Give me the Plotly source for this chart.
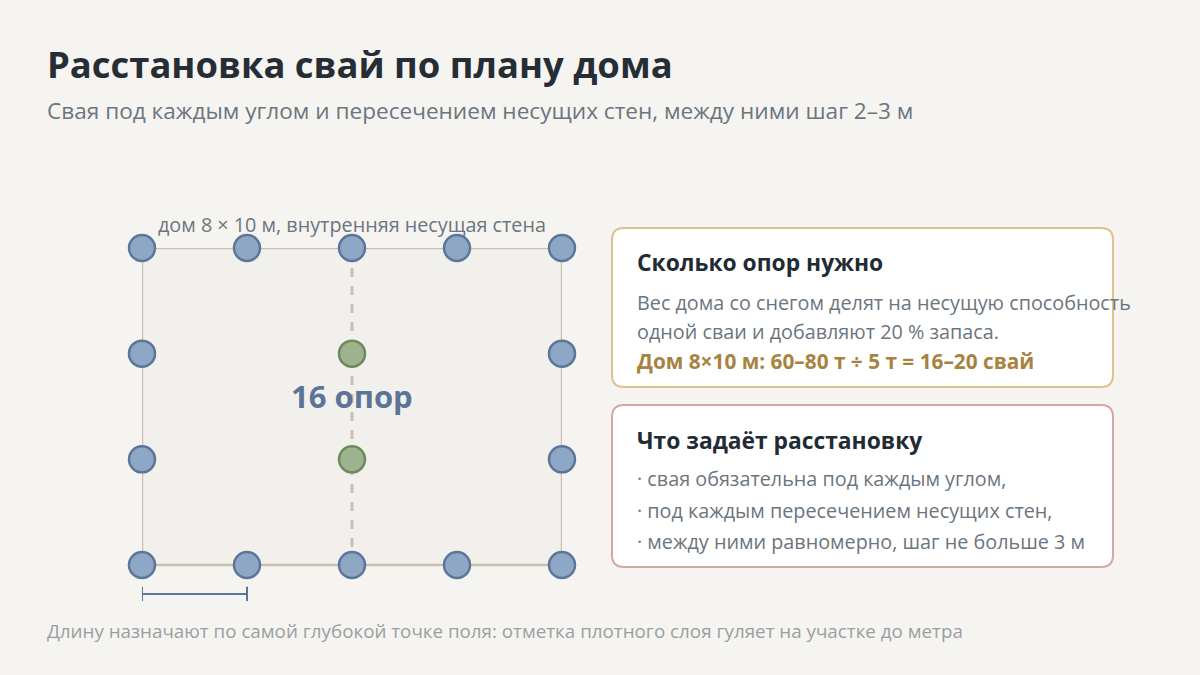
import plotly.graph_objects as go

W, H = 1200, 675
house_w, house_h = 10, 8
pile_x = [0, 2.5, 5, 7.5, 10, 0, 2.5, 5, 7.5, 10, 0, 0, 10, 10]
pile_y = [8, 8, 8, 8, 8, 0, 0, 0, 0, 0, 16/3, 8/3, 16/3, 8/3]
inner_x = [5, 5]
inner_y = [16/3, 8/3]
pile_count = len(pile_x) + len(inner_x)
scale_bar = [0, 2.5]

FONT = "Open Sans"
def px(x): return x / W
def py(y): return 1 - y / H
ypu = (565 - 248) / 8  # px per metre

fig = go.Figure()
fig.add_trace(go.Scatter(x=[0, house_w, house_w, 0, 0], y=[0, 0, house_h, house_h, 0], mode="lines",
                         fill="toself", fillcolor="#f2f0ec", line=dict(color="#c9c0b2", width=2.5), hoverinfo="skip"))
fig.add_trace(go.Scatter(x=[5, 5], y=[0, house_h], mode="lines",
                         line=dict(color="#c9bfae", width=3, dash="dash"), hoverinfo="skip"))
fig.add_trace(go.Scatter(x=scale_bar, y=[-0.73, -0.73], mode="lines", line=dict(color="#5a7597", width=2),
                         hoverinfo="skip"))
for xv in scale_bar:
    fig.add_trace(go.Scatter(x=[xv, xv], y=[-0.55, -0.91], mode="lines", line=dict(color="#5a7597", width=2),
                             hoverinfo="skip"))
fig.add_trace(go.Scatter(x=pile_x, y=pile_y, mode="markers", cliponaxis=False,
                         marker=dict(size=26, color="#8ea7c4", line=dict(color="#5b7698", width=2.5))))
fig.add_trace(go.Scatter(x=inner_x, y=inner_y, mode="markers", cliponaxis=False,
                         marker=dict(size=26, color="#9db38e", line=dict(color="#6c8a5e", width=2.5))))

def rrect(x0, y0, x1, y1, r, color):
    X0, X1 = px(x0), px(x1)
    Y0, Y1 = py(y0), py(y1)
    rx, ry = r / W, r / H
    path = (f"M{X0+rx},{Y0} L{X1-rx},{Y0} Q{X1},{Y0} {X1},{Y0-ry} L{X1},{Y1+ry} Q{X1},{Y1} {X1-rx},{Y1} "
            f"L{X0+rx},{Y1} Q{X0},{Y1} {X0},{Y1+ry} L{X0},{Y0-ry} Q{X0},{Y0} {X0+rx},{Y0} Z")
    fig.add_shape(type="path", path=path, xref="paper", yref="paper",
                  fillcolor="white", line=dict(color=color, width=2), layer="below")

rrect(612, 228, 1113, 387, 12, "#e0c08c")
rrect(612, 405, 1113, 567, 12, "#d4a7a5")

def txt(x, y, s, size, color, bold=False, anchor="left"):
    if bold: s = f"<b>{s}</b>"
    fig.add_annotation(x=px(x), y=py(y), xref="paper", yref="paper", text=s, showarrow=False,
                       xanchor=anchor, yanchor="middle", font=dict(family=FONT, size=size, color=color))

txt(45, 64, "Расстановка свай по плану дома", 36.4, "#262d35", True)
txt(45, 110, "Свая под каждым углом и пересечением несущих стен, между ними шаг 2–3 м", 22.6, "#6b7580")
txt(45, 631, "Длину назначают по самой глубокой точке поля: отметка плотного слоя гуляет на участке до метра", 18.8, "#9a9ea3")
txt(352, 224, "дом 8 × 10 м, внутренняя несущая стена", 19.8, "#6b7580", anchor="center")
txt(352, 396, f"{pile_count} опор", 31, "#5a7597", True, anchor="center")

txt(635, 263, "Сколько опор нужно", 22.8, "#222a33", True)
txt(635, 302, "Вес дома со снегом делят на несущую способность", 19.8, "#6b7580")
txt(635, 331, "одной сваи и добавляют 20 % запаса.", 19.8, "#6b7580")
txt(635, 361, "Дом 8×10 м: 60–80 т ÷ 5 т = 16–20 свай", 20.8, "#a8833f", True)
txt(635, 440, "Что задаёт расстановку", 22.8, "#222a33", True)
txt(635, 478, "· свая обязательна под каждым углом,", 19.8, "#6b7580")
txt(635, 510, "· под каждым пересечением несущих стен,", 19.8, "#6b7580")
txt(635, 541, "· между ними равномерно, шаг не больше 3 м", 19.8, "#6b7580")

fig.update_layout(width=W, height=H, margin=dict(l=0, r=0, t=0, b=0), showlegend=False,
                  paper_bgcolor="#f6f4f0", plot_bgcolor="rgba(0,0,0,0)",
                  xaxis=dict(domain=[px(142), px(562)], range=[0, 10], visible=False, fixedrange=True),
                  yaxis=dict(domain=[py(565 + ypu), py(248)], range=[-1, 8], visible=False, fixedrange=True))
fig.write_html("out.html", config={"displayModeBar": False},
               post_script="document.body.style.margin='0';document.body.style.background='#f6f4f0';")
